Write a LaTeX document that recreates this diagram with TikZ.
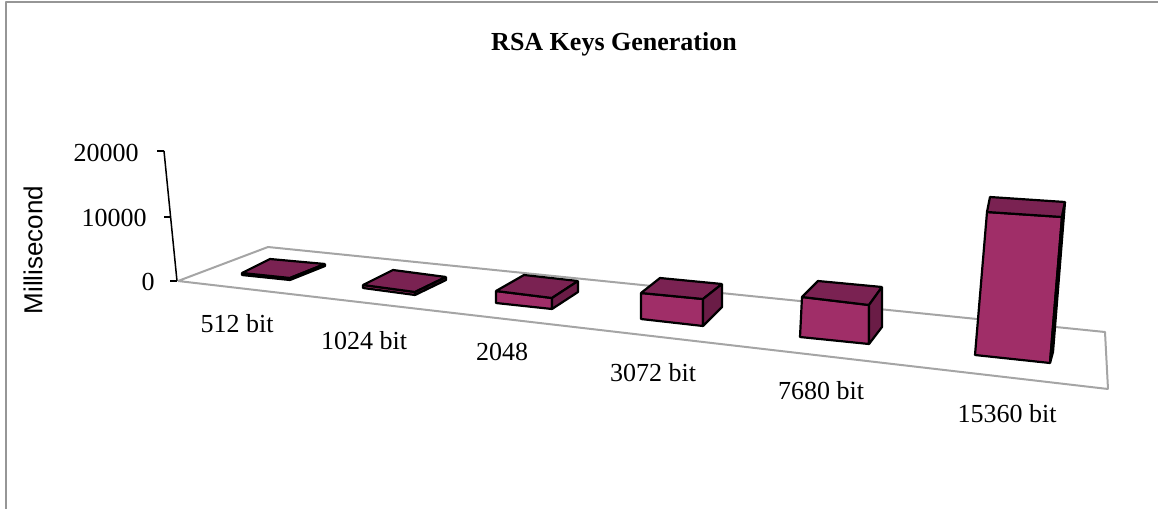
\documentclass[tikz,border=0pt]{standalone}
\usepackage{fontspec}
\setmainfont{Liberation Serif}
\newfontfamily\axisfont{Liberation Sans}
\definecolor{barfront}{RGB}{160,46,104}
\definecolor{bartop}{RGB}{122,34,82}
\definecolor{barside}{RGB}{106,28,70}
\definecolor{floorgray}{RGB}{165,165,165}
\definecolor{framegray}{RGB}{150,150,150}
%% one box: front TL, TR, BR, BL, back TL, TR, side bottom
\newcommand{\keybar}[7]{%
  \filldraw[barfacefront] #1 -- #2 -- #3 -- #4 -- cycle;
  \filldraw[barfacetop] #1 -- #5 -- #6 -- #2 -- cycle;
  \filldraw[barfaceside] #2 -- #6 -- #7 -- #3 -- cycle;}
\begin{document}
\begin{tikzpicture}[x=0.5pt,y=-0.5pt,line join=bevel,
  barfacefront/.style={fill=barfront,draw=black,line width=1.1pt},
  barfacetop/.style={fill=bartop,draw=black,line width=1.1pt},
  barfaceside/.style={fill=barside,draw=black,line width=1.1pt},
  catlabel/.style={font=\fontsize{13}{15}\selectfont,inner sep=0pt},
  ticklabel/.style={font=\fontsize{13}{15}\selectfont,inner sep=0pt,anchor=east}]
\useasboundingbox (0,0) rectangle (1158,509);
%%
\draw[framegray,line width=1pt] (6,509) -- (6,2) -- (1158,2);
\node (title) at (614,44) [font=\fontsize{13}{15}\selectfont\bfseries] {RSA Keys Generation};
\node (yname) at (33,250) [rotate=90,font=\axisfont\fontsize{13}{15}\selectfont] {Millisecond};
%% floor
\draw[floorgray,line width=1pt] (178,281) -- (268,247) -- (1105,332) -- (1108,389) -- cycle;
%% value axis
\coordinate (ytop) at (164,151);
\coordinate (ymid) at (170.5,217);
\coordinate (ybot) at (177,281);
\draw[black,line width=0.75pt] (ytop) -- (ybot);
\draw[black,line width=0.75pt] (ytop) -- ++(-7,0);
\draw[black,line width=0.75pt] (ymid) -- ++(-7,0);
\draw[black,line width=0.75pt] (ybot) -- ++(-7,0);
\node (y20000) at (139,153) [ticklabel] {20000};
\node (y10000) at (147,218) [ticklabel] {10000};
\node (y0) at (155,282) [ticklabel] {0};
%% bars
\keybar{(242,273)}{(290,278)}{(290,280)}{(242,275)}{(270,259)}{(325,264)}{(325,266)}
\keybar{(363,285)}{(415,292)}{(415,295)}{(363,288)}{(393,270)}{(446,277)}{(446,280)}
\keybar{(496,291)}{(552,298)}{(552,309)}{(496,303)}{(524,275)}{(578,281)}{(578,292)}
\keybar{(641,293)}{(703,299)}{(703,326)}{(641,319)}{(660,278)}{(722,284)}{(722,307)}
\keybar{(802,297)}{(869,305)}{(869,344)}{(800,337)}{(818,281)}{(882,287)}{(882,327)}
\keybar{(987,212)}{(1062,217)}{(1050,363)}{(975,355)}{(990,197)}{(1065,202)}{(1053,352)}
%% categories
\node (k512) at (237,324) [catlabel] {512 bit};
\node (k1024) at (364,341) [catlabel] {1024 bit};
\node (k2048) at (502,352) [catlabel] {2048};
\node (k3072) at (653,373) [catlabel] {3072 bit};
\node (k7680) at (821,391) [catlabel] {7680 bit};
\node (k15360) at (1007,414) [catlabel] {15360 bit};
%
\end{tikzpicture}
\end{document}
